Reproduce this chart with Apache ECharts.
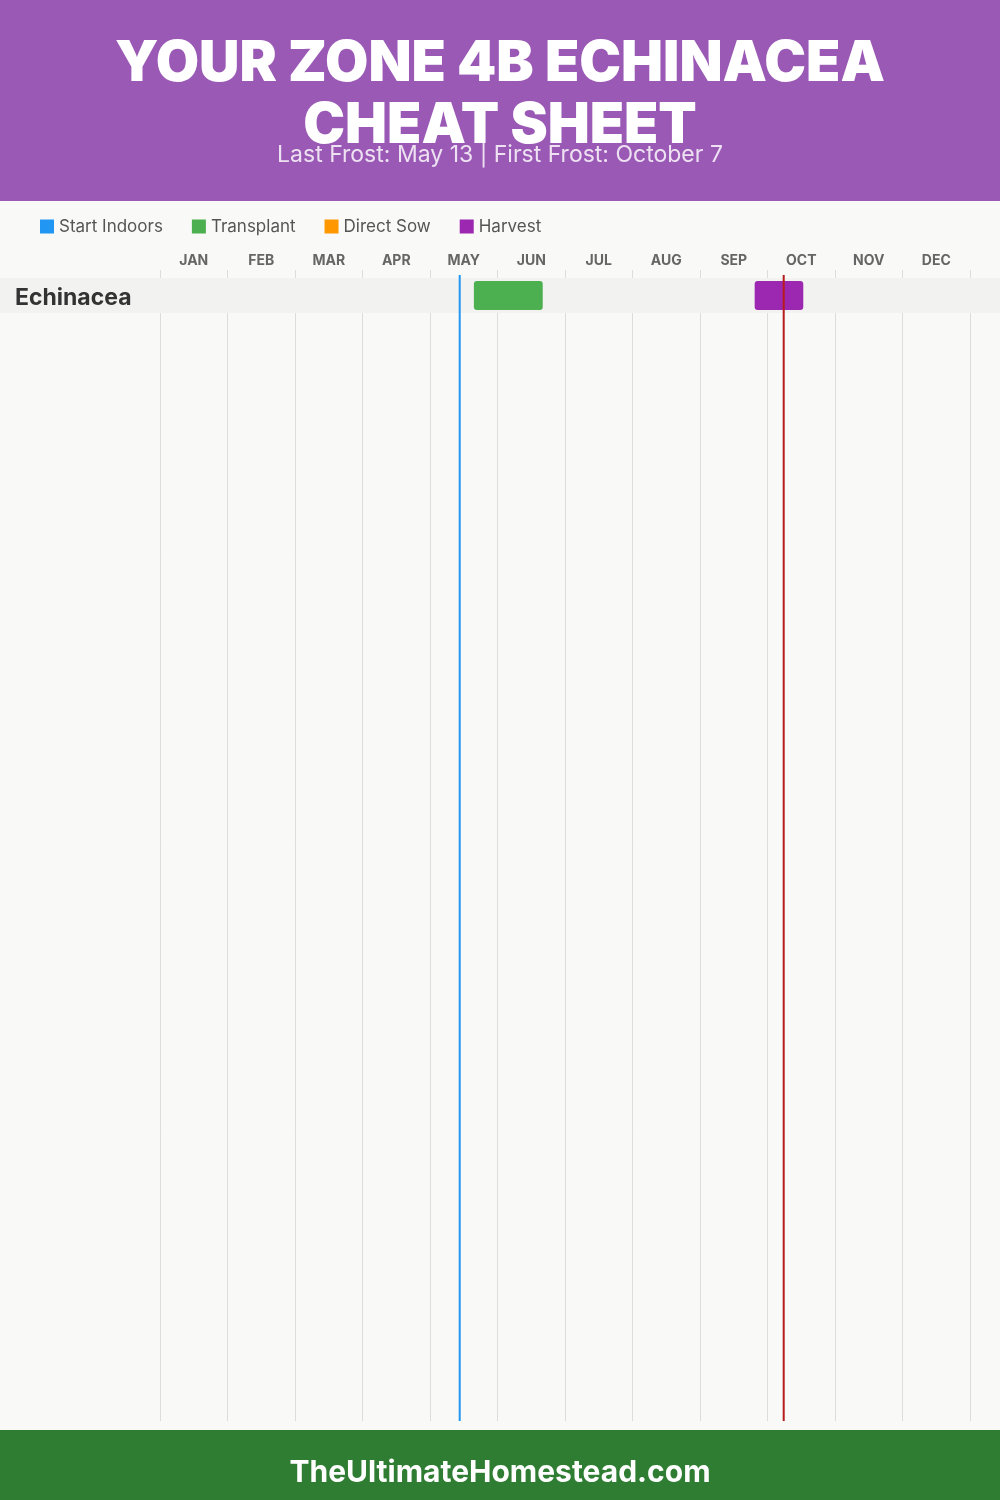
<!DOCTYPE html>
<html><head><meta charset="utf-8">
<script src="https://cdn.jsdelivr.net/npm/echarts@6/dist/echarts.min.js"></script>
<style>html,body{margin:0;padding:0;background:#f9f9f7}#c{width:1000px;height:1500px}</style>
</head><body><div id="c"></div>
<script>
// ---- data (x values in month units: 0 = Jan 1, 12 = Dec 31) ----
const months = ['JAN','FEB','MAR','APR','MAY','JUN','JUL','AUG','SEP','OCT','NOV','DEC'];
const crops = ['Echinacea'];
const startIndoors = [];               // [start, end, row]
const transplant = [[4.65, 5.67, 0]];
const directSow = [];
const harvest = [[8.81, 9.53, 0]];
const frostNames = ['Last Frost', 'First Frost'];
const frostValues = [4.44, 9.24];      // May 13, October 7
const titleLines = ['YOUR ZONE 4B ECHINACEA', 'CHEAT SHEET'];
const subtitleText = 'Last Frost: May 13 | First Frost: October 7';
const footerText = 'TheUltimateHomestead.com';

const colors = {si:'#2196f3', tp:'#4caf50', ds:'#ff9800', hv:'#9c27b0'};
const FONT = 'Inter, "Open Sans", sans-serif';

function barSeries(name, data, color){
  return {
    name, type:'custom', xAxisIndex:0, yAxisIndex:0, data, z:5,
    itemStyle:{color},
    renderItem(params, api){
      const row = api.value(2);
      const a = api.coord([api.value(0), row + 0.086]);
      const b = api.coord([api.value(1), row + 0.914]);
      return {type:'rect', shape:{x:a[0], y:a[1], width:b[0]-a[0], height:b[1]-a[1], r:3}, style:{fill:color}};
    }
  };
}

const chart = echarts.init(document.getElementById('c'), null, {renderer:'canvas'});
chart.setOption({
  backgroundColor:'#f9f9f7',
  animation:false,
  textStyle:{fontFamily:FONT},
  graphic:[
    {type:'rect', left:0, top:0, shape:{width:1000, height:201}, style:{fill:'#9b59b6'}, z:-1},
    {type:'rect', left:0, bottom:0, shape:{width:1000, height:70}, style:{fill:'#2e7d32'}, z:-1}
  ],
  title:[
    {text:titleLines[0], left:'center', top:31,
     textStyle:{color:'#fff', fontSize:56, fontWeight:900, fontFamily:FONT}},
    {text:titleLines[1], left:'center', top:93,
     textStyle:{color:'#fff', fontSize:56, fontWeight:900, fontFamily:FONT}},
    {text:subtitleText, left:'center', top:139,
     textStyle:{color:'rgba(255,255,255,0.82)', fontSize:23, fontWeight:400, fontFamily:FONT}},
    {text:footerText, left:'center', bottom:7,
     textStyle:{color:'#fff', fontSize:30, fontWeight:'bold', fontFamily:FONT}}
  ],
  legend:{
    left:35, top:213, itemWidth:14, itemHeight:14, itemGap:29, icon:'rect',
    textStyle:{color:'#555', fontSize:17, fontFamily:FONT},
    data:['Start Indoors','Transplant','Direct Sow','Harvest']
  },
  grid:{left:160, right:30, top:270, bottom:79},
  xAxis:[
    {type:'value', min:0, max:12, interval:1, position:'top',
     axisLabel:{show:false}, axisLine:{show:false}, axisTick:{show:false},
     splitLine:{show:true, lineStyle:{color:'#dddddd', width:1}}},
    {type:'category', data:months, position:'top', boundaryGap:true,
     axisLine:{show:false}, axisTick:{show:false}, splitLine:{show:false},
     axisLabel:{color:'#666', fontSize:14, fontWeight:'bold', margin:2, fontFamily:FONT}}
  ],
  yAxis:{type:'value', inverse:true, min:-0.23, max:32.66, show:false, splitLine:{show:false}},
  series:[
    {
      name:'rows', type:'custom', xAxisIndex:0, yAxisIndex:0, z:3,
      data:crops.map((c,i)=>[0, i, c]),
      renderItem(params, api){
        const i = api.value(1);
        const a = api.coord([0, i]);
        const b = api.coord([12, i + 1]);
        return {type:'group', children:[
          {type:'rect', shape:{x:0, y:a[1], width:api.getWidth(), height:b[1]-a[1]}, style:{fill:'#f2f2f1'}},
          {type:'text', x:15, y:(a[1]+b[1])/2 + 3, style:{text:crops[i], fill:'#333', fontSize:23, fontWeight:'bold', fontFamily:FONT, verticalAlign:'middle', align:'left'}}
        ]};
      }
    },
    barSeries('Start Indoors', startIndoors, colors.si),
    barSeries('Transplant', transplant, colors.tp),
    barSeries('Direct Sow', directSow, colors.ds),
    barSeries('Harvest', harvest, colors.hv),
    {
      name:'frost', type:'custom', xAxisIndex:0, yAxisIndex:0, z:6,
      data:frostValues.map((v,i)=>[v, i]),
      renderItem(params, api){
        const a = api.coord([api.value(0), -0.09]);
        const b = api.coord([api.value(0), 32.66]);
        const col = api.value(1) === 0 ? '#2196f3' : '#b71c1c';
        return {type:'line', shape:{x1:a[0], y1:a[1], x2:b[0], y2:b[1]}, style:{stroke:col, lineWidth:2}};
      }
    }
  ]
});
</script></body></html>
